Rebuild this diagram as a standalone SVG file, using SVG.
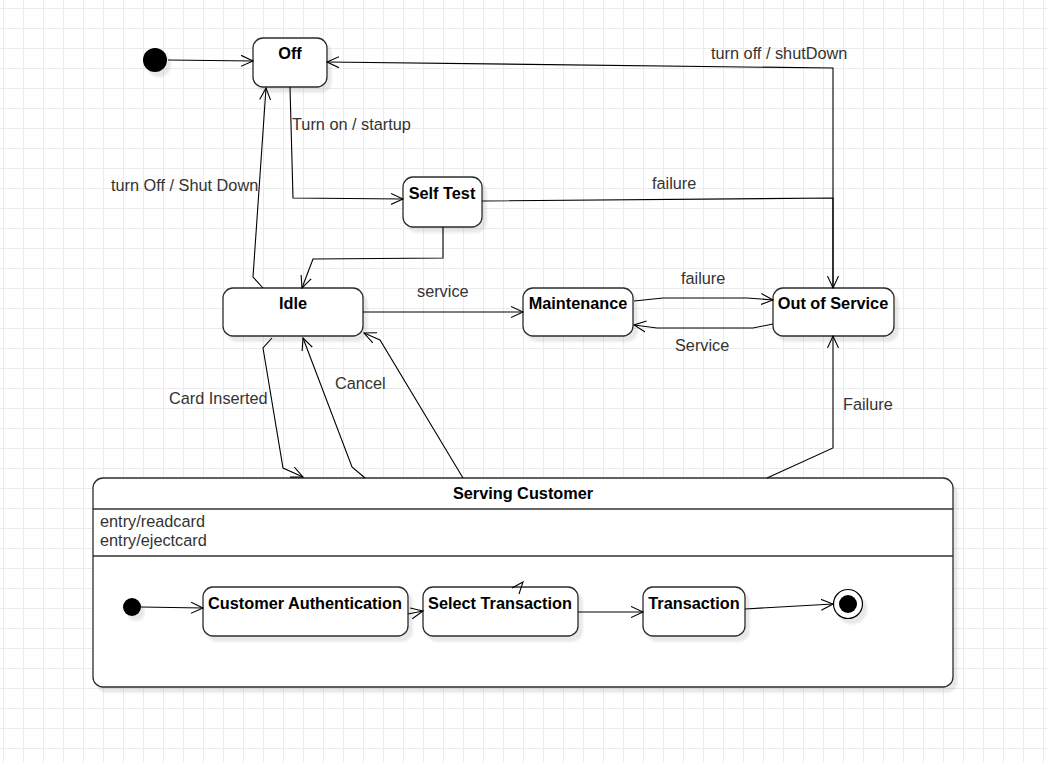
<svg xmlns="http://www.w3.org/2000/svg" width="1047" height="763" viewBox="0 0 1047 763">
  <defs>
    <pattern id="grid" patternUnits="userSpaceOnUse" x="3" y="8" width="20" height="20">
      <path d="M0.5,0 V20 M0,0.5 H20" fill="none" stroke="#ebebeb" stroke-width="1"/>
    </pattern>
    <filter id="shadow" x="-10%" y="-10%" width="130%" height="140%">
      <feGaussianBlur in="SourceAlpha" stdDeviation="1.2"/>
      <feOffset dx="4" dy="5" result="off"/>
      <feFlood flood-color="#000" flood-opacity="0.09"/>
      <feComposite in2="off" operator="in"/>
      <feMerge>
        <feMergeNode/>
        <feMergeNode in="SourceGraphic"/>
      </feMerge>
    </filter>
    <marker id="open" markerUnits="userSpaceOnUse" markerWidth="14" markerHeight="14" refX="12" refY="7" orient="auto">
      <path d="M0,1.5 L12,7 L0,12.5" fill="none" stroke="#000" stroke-width="1.1"/>
    </marker>
  </defs>
  <style>
    .state { fill: #fff; stroke: #2b2b2b; stroke-width: 1.3; }
    .name { font-family: "Liberation Sans", Arial, sans-serif; font-size: 16.3px; font-weight: bold; fill: #000; text-anchor: middle; }
    .label { font-family: "Liberation Sans", Arial, sans-serif; font-size: 16.3px; fill: #333; }
    .edge { fill: none; stroke: #000; stroke-width: 1.1; marker-end: url(#open); }
    .plain { fill: none; stroke: #000; stroke-width: 1.1; }
    .sep { stroke: #333; stroke-width: 1.3; }
  </style>

  <rect width="1047" height="763" fill="#fff"/>
  <rect width="1047" height="763" fill="url(#grid)"/>

  <!-- composite state -->
  <g id="serving-customer">
    <rect class="state" x="93" y="478" width="860" height="209" rx="10" filter="url(#shadow)"/>
    <line class="sep" x1="93" y1="509" x2="953" y2="509"/>
    <line class="sep" x1="93" y1="556" x2="953" y2="556"/>
    <text class="name" x="523" y="499">Serving Customer</text>
    <text class="label" x="100" y="527">entry/readcard</text>
    <text class="label" x="100" y="546">entry/ejectcard</text>
  </g>

  <!-- top-level states -->
  <g id="initial">
    <circle cx="155" cy="60" r="12" fill="#000" filter="url(#shadow)"/>
  </g>
  <g id="off">
    <rect class="state" x="253" y="38" width="74" height="49" rx="10" filter="url(#shadow)"/>
    <text class="name" x="290" y="59">Off</text>
  </g>
  <g id="self-test">
    <rect class="state" x="403" y="177" width="79" height="50" rx="10" filter="url(#shadow)"/>
    <text class="name" x="442" y="199">Self Test</text>
  </g>
  <g id="idle">
    <rect class="state" x="223" y="288" width="140" height="48" rx="10" filter="url(#shadow)"/>
    <text class="name" x="293" y="309">Idle</text>
  </g>
  <g id="maintenance">
    <rect class="state" x="523" y="288" width="110" height="48" rx="10" filter="url(#shadow)"/>
    <text class="name" x="578" y="309">Maintenance</text>
  </g>
  <g id="out-of-service">
    <rect class="state" x="773" y="288" width="121" height="48" rx="10" filter="url(#shadow)"/>
    <text class="name" x="833" y="309">Out of Service</text>
  </g>

  <!-- nested states -->
  <g id="inner-initial">
    <circle cx="132" cy="607" r="9" fill="#000" filter="url(#shadow)"/>
  </g>
  <g id="customer-authentication">
    <rect class="state" x="203" y="587" width="205" height="49" rx="10" filter="url(#shadow)"/>
    <text class="name" x="305" y="609">Customer Authentication</text>
  </g>
  <g id="select-transaction">
    <rect class="state" x="423" y="587" width="155" height="49" rx="10" filter="url(#shadow)"/>
    <text class="name" x="500" y="609">Select Transaction</text>
  </g>
  <g id="transaction">
    <rect class="state" x="643" y="587" width="102" height="49" rx="10" filter="url(#shadow)"/>
    <text class="name" x="694" y="609">Transaction</text>
  </g>
  <g id="final">
    <circle cx="848" cy="604" r="14.5" fill="#fff" stroke="#000" stroke-width="1.2" filter="url(#shadow)"/>
    <circle cx="848" cy="604" r="9" fill="#000"/>
  </g>

  <!-- transitions -->
  <g id="connectors">
    <path class="edge" d="M168,60 L253,61"/>
    <path class="edge" d="M290,87 L293,198 L403,199"/>
    <path class="edge" d="M443,227 L443,258 L313,259 L302,288"/>
    <path class="edge" d="M263,288 L253,277 L266,88"/>
    <path class="edge" d="M833,288 L833,68 L327,62"/>
    <path class="edge" d="M482,201 L833,198 L833,288"/>
    <path class="edge" d="M363,312 L523,312"/>
    <path class="edge" d="M634,301 L663,298 L747,298 L773,300"/>
    <path class="edge" d="M773,324 L753,328 L657,328 L634,325"/>
    <path class="edge" d="M767,478 L833,448 L833,336"/>
    <path class="edge" d="M272,338 L263,348 L283,468 L303,477"/>
    <path class="edge" d="M365,478 L352,467 L303,338"/>
    <path class="edge" d="M463,478 L380,340 L364,333"/>

    <path class="edge" d="M141,607 L203,608"/>
    <path class="edge" d="M408,614 L423,611"/>
    <path class="plain" d="M512,588 L523,582 L519,594"/>
    <path class="edge" d="M578,612 L643,612"/>
    <path class="edge" d="M745,609 L833,604"/>
  </g>

  <!-- transition labels -->
  <g id="labels">
    <text class="label" x="292" y="130">Turn on / startup</text>
    <text class="label" x="711" y="59">turn off / shutDown</text>
    <text class="label" x="652" y="189">failure</text>
    <text class="label" x="111" y="191">turn Off / Shut Down</text>
    <text class="label" x="417" y="297">service</text>
    <text class="label" x="681" y="284">failure</text>
    <text class="label" x="675" y="351">Service</text>
    <text class="label" x="169" y="404">Card Inserted</text>
    <text class="label" x="335" y="389">Cancel</text>
    <text class="label" x="843" y="410">Failure</text>
  </g>
</svg>
